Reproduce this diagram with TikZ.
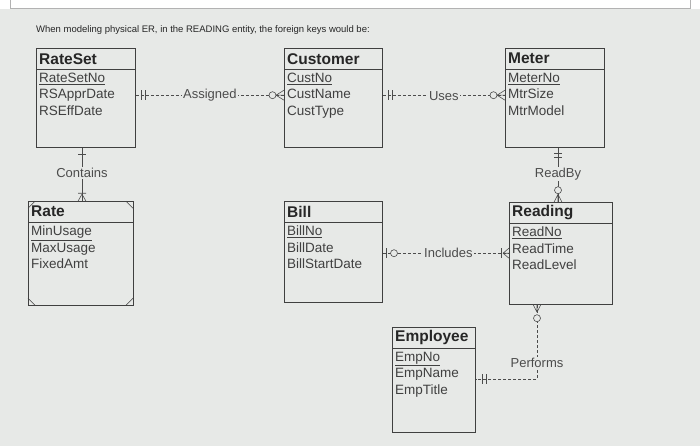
\documentclass[tikz,border=0pt]{standalone}
\usepackage{fontspec}
\setmainfont{Liberation Sans}
\begin{document}
\begin{tikzpicture}[x=1pt,y=-1pt,
  box/.style={draw=black!75,line width=0.8pt,fill=none,anchor=north west,inner sep=0pt},
  ttl/.style={anchor=west,font=\fontsize{15.5}{17}\selectfont\bfseries,text=black!85,inner sep=0pt},
  att/.style={anchor=north west,align=left,font=\fontsize{13.5}{16.5}\selectfont,text=black!75,inner sep=0pt},
  lbl/.style={font=\fontsize{13}{14}\selectfont,text=black!70,inner sep=1pt},
  rel/.style={draw=black!70,line width=0.6pt,dash pattern=on 3pt off 2pt},
  mk/.style={draw=black!70,line width=0.6pt}]
\colorlet{bg}{black!4!green!3!gray!18}
\fill[bg] (0,0) rectangle (700,444);
\fill[white] (0,0) rectangle (700,7);
\draw[black!30] (10,-2) -- (10,6) -- (690,6) -- (690,-2);
\node[anchor=west,font=\fontsize{9.5}{11}\selectfont,text=black!85,inner sep=0pt] (q) at (36,28) {When modeling physical ER, in the READING entity, the foreign keys would be:};
\newcommand{\entity}[7]{%
  \node[box,minimum width=#4-#2,minimum height=#5-#3] (#1) at (#2,#3) {};
  \draw[black!75,line width=0.8pt] (#2,#3+21) -- (#4,#3+21);
  \node[ttl] (#1t) at (#2+3,#3+10.5) {#6};
  \node[att] (#1a) at (#2+3,#3+24.5) {#7};}
\entity{rs}{36}{46}{135}{145}{RateSet}{\underline{RateSetNo}\\RSApprDate\\RSEffDate}
\entity{cu}{284}{46}{382}{145}{Customer}{\underline{CustNo}\\CustName\\CustType}
\entity{me}{505}{46}{604}{145}{Meter}{\underline{MeterNo}\\MtrSize\\MtrModel}
\entity{ra}{28}{199}{133}{303}{Rate}{\underline{MinUsage}\\MaxUsage\\FixedAmt}
\entity{bi}{284}{199}{382}{300}{Bill}{\underline{BillNo}\\BillDate\\BillStartDate}
\entity{re}{509}{200}{612}{302}{Reading}{\underline{ReadNo}\\ReadTime\\ReadLevel}
\entity{em}{392}{325}{475}{430}{Employee}{\underline{EmpNo}\\EmpName\\EmpTitle}
% Rate corner marks
\foreach \a/\b/\c/\d in {28/206/35/199, 126/199/133/206, 28/296/35/303, 126/303/133/296}
  \draw[black!75,line width=0.6pt] (\a,\b) -- (\c,\d);
% Assigned
\path[rel] ([yshift=2.5pt]rs.east) -- node[lbl,fill=bg] (la) {Assigned} ([yshift=2.5pt]cu.west);
\draw[mk] (141,88) -- (141,98) (145,88) -- (145,98);
\draw[mk] (276,93) -- (284,88) (276,93) -- (284,93) (276,93) -- (284,98);
\draw[mk,fill=bg] (272.5,93) circle (3.5);
% Uses
\path[rel] ([yshift=2.5pt]cu.east) -- node[lbl,fill=bg] (lu) {Uses} ([yshift=2.5pt]me.west);
\draw[mk] (388,88) -- (388,98) (392,88) -- (392,98);
\draw[mk] (497,93) -- (505,88) (497,93) -- (505,93) (497,93) -- (505,98);
\draw[mk,fill=bg] (493.5,93) circle (3.5);
% Contains
\draw[mk] (rs.south -| 82,0) -- (ra.north -| 82,0);
\node[lbl,fill=bg] (lc) at (82,171) {Contains};
\draw[mk] (78,152) -- (86,152);
\draw[mk] (78,191) -- (86,191) (82,192) -- (78,199) (82,192) -- (86,199);
% ReadBy
\draw[mk] (me.south -| 558,0) -- (re.north -| 558,0);
\node[lbl,fill=bg] (lr) at (558,172) {ReadBy};
\draw[mk] (554,151) -- (562,151) (554,155) -- (562,155);
\draw[mk] (558,192) -- (554,200) (558,192) -- (558,200) (558,192) -- (562,200);
\draw[mk,fill=bg] (558,188) circle (3.5);
% Includes
\path[rel] (bi.east |- 0,251) -- node[lbl,fill=bg,pos=0.52] (li) {Includes} (re.west |- 0,251);
\draw[mk] (386,246) -- (386,256);
\draw[mk,fill=bg] (394,251) circle (3.5);
\draw[mk] (501,246) -- (501,256);
\draw[mk] (503,251) -- (509,246) (503,251) -- (509,251) (503,251) -- (509,256);
% Performs
\coordinate (pc) at (537,377);
\draw[rel] (re.south -| 537,0) -- (pc) -- (em.east |- pc);
\draw[mk] (537,310) -- (533,302) (537,310) -- (537,302) (537,310) -- (541,302);
\draw[mk,fill=bg] (537,316) circle (3.5);
\draw[mk] (482,372) -- (482,382) (486,372) -- (486,382);
\node[lbl,fill=bg] (lp) at (537,361) {Performs};
\end{tikzpicture}
\end{document}
